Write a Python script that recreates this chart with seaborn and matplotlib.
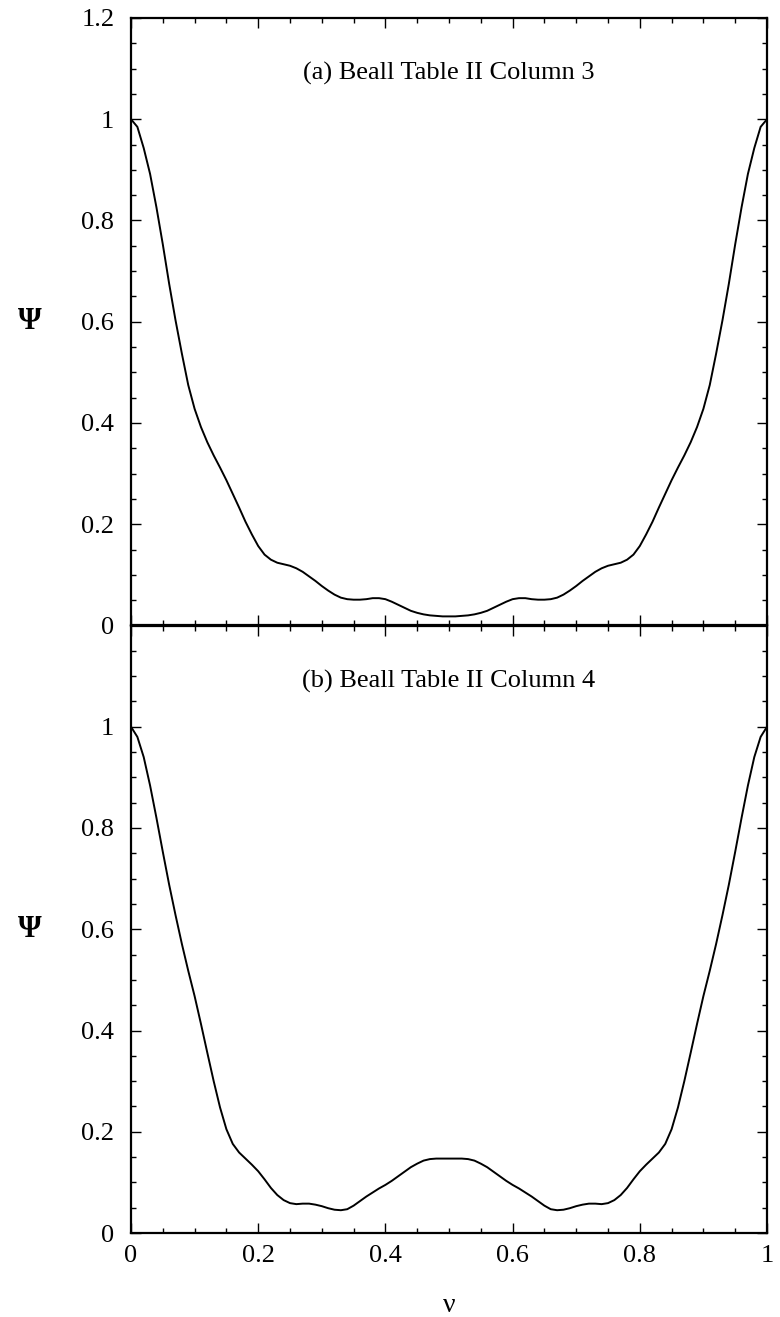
import numpy as np
import seaborn as sns
import matplotlib.pyplot as plt
from matplotlib.ticker import MultipleLocator, FuncFormatter

# frecuencia normalizada (nu) y respuesta Psi
nu = [0.00, 0.01, 0.02, 0.03, 0.04, 0.05, 0.06, 0.07, 0.08, 0.09,
      0.10, 0.11, 0.12, 0.13, 0.14, 0.15, 0.16, 0.17, 0.18, 0.19,
      0.20, 0.21, 0.22, 0.23, 0.24, 0.25, 0.26, 0.27, 0.28, 0.29,
      0.30, 0.31, 0.32, 0.33, 0.34, 0.35, 0.36, 0.37, 0.38, 0.39,
      0.40, 0.41, 0.42, 0.43, 0.44, 0.45, 0.46, 0.47, 0.48, 0.49,
      0.50, 0.51, 0.52, 0.53, 0.54, 0.55, 0.56, 0.57, 0.58, 0.59,
      0.60, 0.61, 0.62, 0.63, 0.64, 0.65, 0.66, 0.67, 0.68, 0.69,
      0.70, 0.71, 0.72, 0.73, 0.74, 0.75, 0.76, 0.77, 0.78, 0.79,
      0.80, 0.81, 0.82, 0.83, 0.84, 0.85, 0.86, 0.87, 0.88, 0.89,
      0.90, 0.91, 0.92, 0.93, 0.94, 0.95, 0.96, 0.97, 0.98, 0.99, 1.00]

# (a) Beall Table II Column 3
psi_a = [1.000, 0.985, 0.943, 0.892, 0.826, 0.753, 0.675, 0.603, 0.537, 0.475,
         0.428, 0.392, 0.362, 0.336, 0.312, 0.287, 0.260, 0.233, 0.205, 0.180,
         0.157, 0.140, 0.130, 0.124, 0.121, 0.118, 0.113, 0.106, 0.097, 0.088,
         0.078, 0.069, 0.061, 0.055, 0.052, 0.051, 0.051, 0.052, 0.054, 0.054,
         0.052, 0.047, 0.041, 0.035, 0.029, 0.025, 0.022, 0.020, 0.019, 0.018,
         0.018, 0.018, 0.019, 0.020, 0.022, 0.025, 0.029, 0.035, 0.041, 0.047,
         0.052, 0.054, 0.054, 0.052, 0.051, 0.051, 0.052, 0.055, 0.061, 0.069,
         0.078, 0.088, 0.097, 0.106, 0.113, 0.118, 0.121, 0.124, 0.130, 0.140,
         0.157, 0.180, 0.205, 0.233, 0.260, 0.287, 0.312, 0.336, 0.362, 0.392,
         0.428, 0.475, 0.537, 0.603, 0.675, 0.753, 0.826, 0.892, 0.943, 0.985, 1.000]

# (b) Beall Table II Column 4
psi_b = [1.000, 0.980, 0.940, 0.884, 0.820, 0.753, 0.688, 0.628, 0.571, 0.518,
         0.468, 0.413, 0.356, 0.300, 0.248, 0.205, 0.176, 0.159, 0.147, 0.135,
         0.122, 0.106, 0.089, 0.075, 0.065, 0.059, 0.057, 0.058, 0.058, 0.056,
         0.053, 0.049, 0.046, 0.045, 0.047, 0.054, 0.063, 0.072, 0.080, 0.088,
         0.095, 0.103, 0.112, 0.121, 0.130, 0.137, 0.143, 0.146, 0.147, 0.147,
         0.147, 0.147, 0.147, 0.146, 0.143, 0.137, 0.130, 0.121, 0.112, 0.103,
         0.095, 0.088, 0.080, 0.072, 0.063, 0.054, 0.047, 0.045, 0.046, 0.049,
         0.053, 0.056, 0.058, 0.058, 0.057, 0.059, 0.065, 0.075, 0.089, 0.106,
         0.122, 0.135, 0.147, 0.159, 0.176, 0.205, 0.248, 0.300, 0.356, 0.413,
         0.468, 0.518, 0.571, 0.628, 0.688, 0.753, 0.820, 0.884, 0.940, 0.980, 1.000]

titulos = ["(a) Beall Table II Column 3", "(b) Beall Table II Column 4"]

sns.set_style("ticks")
plt.rcParams['font.family'] = ['Liberation Serif', 'DejaVu Serif']
plt.rcParams['text.color'] = 'black'
plt.rcParams['axes.labelcolor'] = 'black'
plt.rcParams['xtick.color'] = 'black'
plt.rcParams['ytick.color'] = 'black'

fig, axes = plt.subplots(2, 1, figsize=(7.8, 13.17), dpi=100, sharex=True)
fig.subplots_adjust(left=131/780, right=767/780, top=1-18/1317, bottom=1-1233/1317, hspace=0)

fmt = FuncFormatter(lambda v, p: "%g" % round(v, 2))

for i, (ax, psi) in enumerate(zip(axes, [psi_a, psi_b])):
	sns.lineplot(x=nu, y=psi, ax=ax, color="black", linewidth=1.4, estimator=None, sort=False)
	ax.set_xlim(0, 1)
	ax.set_ylim(0, 1.2)
	ax.xaxis.set_major_locator(MultipleLocator(0.2))
	ax.xaxis.set_minor_locator(MultipleLocator(0.05))
	ax.yaxis.set_major_locator(MultipleLocator(0.2))
	ax.yaxis.set_minor_locator(MultipleLocator(0.05))
	ax.xaxis.set_major_formatter(fmt)
	ax.yaxis.set_major_formatter(fmt)
	ax.tick_params(which="both", direction="in", top=True, right=True, width=1.0, colors="black")
	ax.tick_params(which="major", length=7.5)
	ax.tick_params(which="minor", length=3.8)
	ax.tick_params(axis="y", labelsize=19, pad=12)
	ax.tick_params(axis="x", labelsize=19, pad=9)
	for s in ax.spines.values():
		s.set_linewidth(1.6)
		s.set_color("black")
	ax.text(0.5, 1.09, titulos[i], ha="center", va="center", fontsize=19, color="black")
	ax.set_ylabel("Ψ", rotation=0, fontsize=22, fontweight="bold", va="center", ha="center")
	ax.yaxis.set_label_coords(-0.159, 0.5)
	ax.set_xlabel("")

# el 1.2 del panel de abajo no lleva etiqueta
axes[1].yaxis.set_major_formatter(FuncFormatter(lambda v, p: "" if v > 1.1 else "%g" % round(v, 2)))
axes[0].tick_params(axis="x", labelbottom=False)
axes[1].set_xlabel("ν", fontsize=20, labelpad=18)

plt.savefig("out.png", dpi=100)
